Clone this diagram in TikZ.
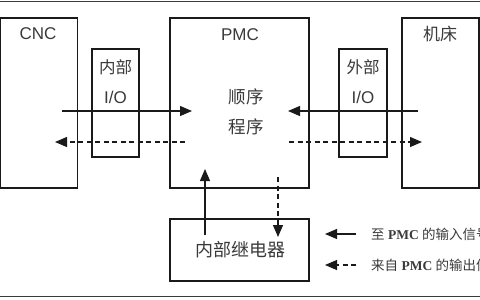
\documentclass[tikz,border=0pt]{standalone}
\usepackage{fontspec}
\setmainfont{Liberation Serif}
\setsansfont{Liberation Sans}
\newfontfamily\cjk{Noto Sans CJK SC}
\usetikzlibrary{arrows.meta}
\definecolor{txt}{HTML}{3A3A3A}
\definecolor{ln}{HTML}{1A1A1A}
\tikzset{
  blk/.style={draw=ln, line width=1.1pt, anchor=north west, inner sep=0pt, outer sep=0pt},
  lbl/.style={text=txt, font=\sffamily\fontsize{17}{17}\selectfont, inner sep=0pt},
  clbl/.style={text=txt, font=\cjk\fontsize{16.5}{17}\selectfont, inner sep=0pt},
  sig/.style={line width=1.1pt, draw=ln, -{Triangle[length=12pt,width=10pt]}},
  dsig/.style={sig, dash pattern=on 5pt off 3.5pt},
  leg/.style={text=txt, font=\fontsize{13.5}{14}\selectfont, inner sep=0pt, anchor=west},
}
\begin{document}
\begin{tikzpicture}[x=1pt, y=-1pt]
\useasboundingbox (0,0) rectangle (480,300);
\clip (0,0) rectangle (480,300);
\fill[white] (0,0) rectangle (480,300);
% frame lines
\draw[line width=1.6pt, draw=ln!85] (0,1.5) -- (480,1.5);
\draw[line width=1.6pt, draw=ln!85] (0,296.5) -- (480,296.5);
% boxes
\node[blk, minimum width=77pt, minimum height=170pt] (cnc) at (0.8,18) {};
\node[blk, minimum width=47pt, minimum height=108pt] (iio) at (92,49) {};
\node[blk, minimum width=139pt, minimum height=170pt] (pmc) at (170,18) {};
\node[blk, minimum width=48pt, minimum height=108pt] (eio) at (339,49) {};
\node[blk, minimum width=77pt, minimum height=170pt] (mt) at (402,18) {};
\node[blk, minimum width=139pt, minimum height=62pt] (relay) at (170,219) {};
% labels
\node[lbl] (tcnc) at (38,34) {CNC};
\node[clbl] (tiio1) at (115.5,67) {内部};
\node[lbl] (tiio2) at (115.5,97) {I/O};
\node[lbl] (tpmc) at (240,35) {PMC};
\node[clbl, font=\cjk\fontsize{17.5}{18}\selectfont] (tseq1) at (246,97) {顺序};
\node[clbl, font=\cjk\fontsize{17.5}{18}\selectfont] (tseq2) at (246,127) {程序};
\node[clbl] (teio1) at (363,67) {外部};
\node[lbl] (teio2) at (363,97) {I/O};
\node[clbl, font=\cjk\fontsize{17}{17}\selectfont] (tmt) at (440,34) {机床};
\node[clbl, font=\cjk\fontsize{18}{18}\selectfont] (trelay) at (240,250) {内部继电器};
% connector end points
\coordinate (a1) at (62,111);  \coordinate (a2) at (192,111);
\coordinate (b1) at (185,142); \coordinate (b2) at (55,142);
\coordinate (c1) at (418,111); \coordinate (c2) at (288,111);
\coordinate (d1) at (289,142); \coordinate (d2) at (422,142);
\coordinate (e1) at (205,235); \coordinate (e2) at (205,169);
\coordinate (f1) at (278,177); \coordinate (f2) at (278,237);
\draw[sig] (a1) -- (a2);
\draw[dsig] (b1) -- (b2);
\draw[sig] (c1) -- (c2);
\draw[dsig] (d1) -- (d2);
\draw[sig] (e1) -- (e2);
\draw[dsig] (f1) -- (f2);
% legend
\coordinate (g1) at (356,234); \coordinate (g2) at (325,234);
\coordinate (h1) at (356,265); \coordinate (h2) at (325,265);
\draw[sig] (g1) -- (g2);
\draw[sig, dash pattern=on 5pt off 3.5pt] (h1) -- (h2);
\node[leg] (l1) at (371,234) {{\cjk 至} \textbf{PMC} {\cjk 的输入信号}};
\node[leg] (l2) at (371,265) {{\cjk 来自} \textbf{PMC} {\cjk 的输出信号}};
\end{tikzpicture}
\end{document}
